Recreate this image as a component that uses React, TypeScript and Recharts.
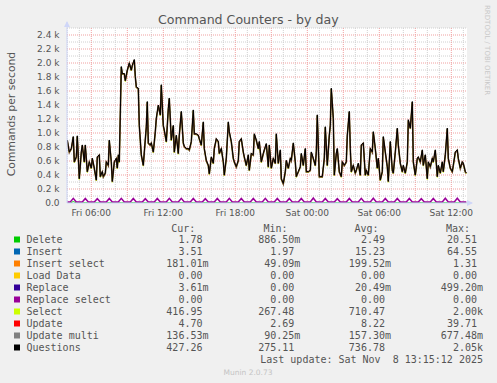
import React from 'react';
import { LineChart, Line, XAxis, YAxis, CartesianGrid } from 'recharts';

const TITLE = 'Command Counters - by day';
const V_LABEL = 'Commands per second';

// [minutes since Fri 00:00, commands per second]
const questions: [number, number][] = [
  [240, 900], [250, 730], [260, 780], [270, 950], [275, 590], [285, 660], [290, 960], [300, 350], [310, 730], [315, 830],
  [325, 590], [330, 830], [340, 450], [350, 590], [360, 500], [365, 640], [375, 500], [385, 330], [390, 660], [400, 690],
  [405, 380], [415, 450], [420, 380], [430, 430], [435, 590], [445, 540], [450, 900], [460, 590], [465, 310], [475, 590],
  [485, 640], [490, 500], [495, 690], [500, 590], [510, 1950], [515, 1850], [525, 1850], [530, 1750], [540, 1900], [550, 2000],
  [560, 1900], [565, 1970], [575, 2050], [580, 1810], [585, 1660], [595, 1640], [600, 1110], [610, 690], [620, 540], [625, 730],
  [635, 1090], [640, 1450], [645, 860], [655, 830], [660, 860], [670, 730], [680, 1020], [685, 1210], [695, 1400], [705, 1260],
  [710, 1690], [720, 1110], [725, 1040], [735, 880], [740, 1110],
  [745, 1350], [750, 1500], [760, 900], [770, 1110], [775, 730], [785, 970], [795, 710], [800, 970], [810, 1310], [820, 860],
  [825, 810], [835, 780], [845, 780], [850, 760], [860, 880], [870, 1330], [875, 990], [885, 990], [895, 970], [900, 920],
  [910, 830], [920, 1160], [925, 780], [935, 610], [945, 540], [950, 420], [960, 660], [970, 570], [975, 780], [985, 920],
  [995, 880], [1000, 710], [1010, 780], [1020, 590], [1025, 400], [1035, 640], [1045, 1160], [1050, 1020], [1060, 880], [1070, 640],
  [1075, 590], [1085, 520], [1095, 610], [1100, 880], [1110, 920], [1120, 730], [1125, 660], [1135, 540], [1145, 690], [1150, 470],
  [1160, 710], [1170, 690], [1175, 990], [1185, 900], [1195, 780], [1200, 880], [1210, 590], [1220, 710], [1225, 760], [1235, 850],
  [1245, 520], [1250, 830],
  [1260, 500], [1270, 640], [1280, 570], [1285, 990], [1295, 570], [1305, 760], [1310, 350], [1320, 280], [1330, 450], [1335, 610],
  [1345, 500], [1355, 640], [1360, 610], [1370, 860], [1380, 590], [1385, 380], [1395, 450], [1405, 520], [1410, 710], [1420, 540],
  [1430, 780], [1435, 450], [1445, 450], [1455, 470], [1460, 730], [1470, 640], [1480, 540], [1485, 730], [1490, 1260], [1500, 380],
  [1505, 380], [1515, 380], [1525, 640], [1530, 1090], [1540, 540], [1550, 970], [1555, 1110], [1560, 1640], [1570, 1210], [1575, 400],
  [1585, 710], [1590, 780], [1600, 450], [1610, 380], [1615, 590], [1625, 540], [1635, 590], [1640, 970], [1650, 1310], [1655, 780],
  [1660, 450], [1670, 540], [1680, 430], [1685, 470], [1695, 570], [1705, 400], [1710, 830], [1720, 860], [1730, 400], [1735, 470],
  [1745, 400], [1755, 780],
  [1765, 730], [1770, 1020], [1780, 780], [1790, 500], [1795, 640], [1805, 330], [1815, 450], [1820, 950], [1830, 730], [1840, 520],
  [1845, 310], [1855, 880], [1865, 470], [1870, 430], [1880, 730], [1890, 1070], [1895, 830], [1905, 570], [1915, 450], [1920, 540],
  [1930, 430], [1940, 590], [1945, 1190], [1955, 1070], [1965, 1450], [1970, 590], [1980, 400], [1990, 640], [1995, 660], [2005, 590],
  [2015, 760], [2020, 540], [2030, 690], [2040, 350], [2045, 590], [2055, 520], [2065, 640], [2070, 590], [2080, 760], [2090, 380],
  [2095, 540], [2105, 430], [2115, 590], [2120, 450], [2130, 690], [2140, 1070], [2145, 640], [2155, 500], [2165, 450], [2170, 540],
  [2180, 730], [2190, 760], [2195, 640], [2205, 500], [2215, 590], [2220, 570], [2230, 450], [2235, 430],
];

// small stacked commands: hourly bump at hh:30 (top of stack = Replace select)
const FIRST_PEAK_HOUR = 4;
const stackPeaks = [66, 64, 62, 64, 66, 65, 62, 64, 66, 66, 64, 62, 64, 66, 64, 64, 66, 64, 64, 64, 72, 65, 62, 64, 66, 68, 65, 64, 64, 62, 64, 68, 68];
const STACK_BASE = 14;
const deletePeaks = [20, 4, 3, 4, 3, 4, 3, 4, 3, 4, 3, 4, 3, 4, 3, 4, 3, 4, 3, 4, 5, 4, 3, 4, 3, 4, 3, 4, 3, 4, 3, 4, 3];
const DELETE_BASE = 2;
const START_MIN = 240;
const END_MIN = 2235;

const X_DOMAIN: [number, number] = [238.5, 2238.5];
const xTicks = [360, 720, 1080, 1440, 1800, 2160];
const xTickLabels = ['Fri 06:00', 'Fri 12:00', 'Fri 18:00', 'Sat 00:00', 'Sat 06:00', 'Sat 12:00'];
const yTicks = [0, 200, 400, 600, 800, 1000, 1200, 1400, 1600, 1800, 2000, 2200, 2400];
const minorY = [100, 300, 500, 700, 900, 1100, 1300, 1500, 1700, 1900, 2100, 2300, 2500];
const majorX = [360, 540, 720, 900, 1080, 1260, 1440, 1620, 1800, 1980, 2160];
const minorX: number[] = [];
for (let h = 4; h <= 37; h++) if ((h * 60) % 180 !== 0) minorX.push(h * 60);

const legendLabels = ['Delete', 'Insert', 'Insert select', 'Load Data', 'Replace', 'Replace select', 'Select', 'Update', 'Update multi', 'Questions'];
const legendColors = ['#00CC00', '#0066B3', '#FF8000', '#FFCC00', '#330099', '#990099', '#CCFF00', '#FF0000', '#808080', '#000000'];
const curVals = ['1.78', '3.51', '181.01m', '0.00', '3.61m', '0.00', '416.95', '4.70', '136.53m', '427.26'];
const minVals = ['886.50m', '1.97', '49.09m', '0.00', '0.00', '0.00', '267.48', '2.69', '90.25m', '275.11'];
const avgVals = ['2.49', '15.23', '199.52m', '0.00', '20.49m', '0.00', '710.47', '8.22', '157.30m', '736.78'];
const maxVals = ['20.51', '64.55', '1.31', '0.00', '499.20m', '0.00', '2.00k', '39.71', '677.48m', '2.05k'];

type Row = { t: number; q?: number; rs?: number; del?: number };
const rowMap = new Map<number, Row>();
const at = (t: number) => {
  if (!rowMap.has(t)) rowMap.set(t, { t });
  return rowMap.get(t)!;
};
questions.forEach(([t, v]) => { at(t).q = v; });
at(START_MIN).rs = STACK_BASE;
at(START_MIN).del = DELETE_BASE;
stackPeaks.forEach((p, i) => {
  const h = (FIRST_PEAK_HOUR + i) * 60;
  at(h + 15).rs = STACK_BASE;
  at(h + 30).rs = p;
  at(h + 45).rs = STACK_BASE;
  at(h + 15).del = DELETE_BASE;
  at(h + 30).del = deletePeaks[i];
  at(h + 45).del = DELETE_BASE;
});
at(END_MIN).rs = STACK_BASE;
at(END_MIN).del = DELETE_BASE;
const rows = Array.from(rowMap.values()).sort((a, b) => a.t - b.t);

const FONT = 'DejaVu Sans, sans-serif';
const MONO = 'DejaVu Sans Mono, monospace';
const TXT = '#555555';
const AXIS = '#CFD6F8';

const pad = (s: string) => (/\d$/.test(s) ? s + ' ' : s);

const XTick = (props: any) => {
  const i = xTicks.indexOf(props.payload.value);
  return (
    <text x={props.x} y={props.y + 13} textAnchor="middle" fontSize={9} fill={TXT} fontFamily={FONT}>
      {xTickLabels[i]}
    </text>
  );
};

const YTick = (props: any) => {
  const v = props.payload.value;
  const label = v === 0 ? '0.0' : `${(v / 1000).toFixed(1)} k`;
  return (
    <text x={props.x - 7.5} y={props.y + 3.2} textAnchor="end" fontSize={9} fill={TXT} fontFamily={FONT}>
      {label}
    </text>
  );
};

export default function App() {
  return (
    <div style={{ position: 'fixed', left: 0, top: 0, width: 497, height: 383, background: '#F0F0F0', overflow: 'hidden' }}>
      <style>{`
        .sel-line .recharts-line-curve, .recharts-line-curve.sel-line { transform: translateY(1px); }
        .upd-line .recharts-line-curve, .recharts-line-curve.upd-line { transform: translateY(0.5px); }
      `}</style>
      <LineChart width={497} height={383} data={rows} margin={{ top: 28, right: 30, bottom: 0, left: 0 }}>
        <CartesianGrid fill="#FFFFFF" stroke="#D0D0D0" strokeDasharray="1 1" horizontalValues={minorY} verticalValues={minorX} />
        <CartesianGrid stroke="#F0A0A0" strokeDasharray="1 1" horizontalValues={yTicks.slice(1)} verticalValues={majorX} />
        <XAxis
          dataKey="t"
          type="number"
          domain={X_DOMAIN}
          ticks={xTicks}
          interval={0}
          height={180}
          tickSize={0}
          tickMargin={0}
          tick={XTick}
          axisLine={{ stroke: AXIS }}
          allowDataOverflow
        />
        <YAxis
          type="number"
          domain={[0, 2500]}
          ticks={yTicks}
          interval={0}
          width={67}
          tickSize={0}
          tickMargin={0}
          tick={YTick}
          axisLine={{ stroke: AXIS }}
          allowDataOverflow
        />
        <Line dataKey="del" stroke="#00CC00" strokeWidth={1} dot={false} connectNulls isAnimationActive={false} />
        <Line dataKey="rs" stroke="#990099" strokeWidth={1.5} dot={false} connectNulls isAnimationActive={false} />
        <Line dataKey="q" className="sel-line" stroke="#CCFF00" strokeWidth={1} dot={false} connectNulls isAnimationActive={false} />
        <Line dataKey="q" className="upd-line" stroke="#6E4428" strokeWidth={1.6} dot={false} connectNulls isAnimationActive={false} />
        <Line dataKey="q" stroke="#000000" strokeWidth={1} dot={false} connectNulls isAnimationActive={false} />
      </LineChart>
      <svg width={497} height={383} style={{ position: 'absolute', left: 0, top: 0, pointerEvents: 'none' }}>
        <line x1={67} y1={22} x2={67} y2={28} stroke={AXIS} />
        <polygon points="64,27 70,27 67,21" fill={AXIS} />
        <line x1={467} y1={203} x2={472} y2={203} stroke={AXIS} />
        <polygon points="467,200 467,206 473,203" fill={AXIS} />
        <text x={248.3} y={24} textAnchor="middle" fontSize={12.6} fill={TXT} fontFamily={FONT}>{TITLE}</text>
        <text x={15} y={114} transform="rotate(-90 15 114)" textAnchor="middle" fontSize={10.8} fill={TXT} fontFamily={FONT}>{V_LABEL}</text>
        <text x={485} y={5} transform="rotate(90 485 5)" fontSize={7} fill="#C8C8C8" fontFamily={FONT}>RRDTOOL / TOBI OETIKER</text>
        <g fontFamily={MONO} fontSize={10} fill={TXT} style={{ whiteSpace: 'pre' }}>
          <text x={195.3} y={231.8} textAnchor="end">Cur:</text>
          <text x={287.5} y={231.8} textAnchor="end">Min:</text>
          <text x={378.5} y={231.8} textAnchor="end">Avg:</text>
          <text x={470} y={231.8} textAnchor="end">Max:</text>
          {legendLabels.map((lab, i) => {
            const y = 243 + i * 12;
            return (
              <g key={lab}>
                <rect x={14} y={y - 6.5} width={6} height={6} fill={legendColors[i]} />
                <text x={26.5} y={y}>{lab}</text>
                <text x={208.5} y={y} textAnchor="end" xmlSpace="preserve">{pad(curVals[i])}</text>
                <text x={300.3} y={y} textAnchor="end" xmlSpace="preserve">{pad(minVals[i])}</text>
                <text x={391} y={y} textAnchor="end" xmlSpace="preserve">{pad(avgVals[i])}</text>
                <text x={483} y={y} textAnchor="end" xmlSpace="preserve">{pad(maxVals[i])}</text>
              </g>
            );
          })}
          <text x={483} y={363.3} textAnchor="end" xmlSpace="preserve">{'Last update: Sat Nov  8 13:15:12 2025'}</text>
        </g>
        <text x={248} y={374.5} textAnchor="middle" fontSize={7.5} fill="#C4C4C4" fontFamily={FONT}>Munin 2.0.73</text>
      </svg>
    </div>
  );
}
